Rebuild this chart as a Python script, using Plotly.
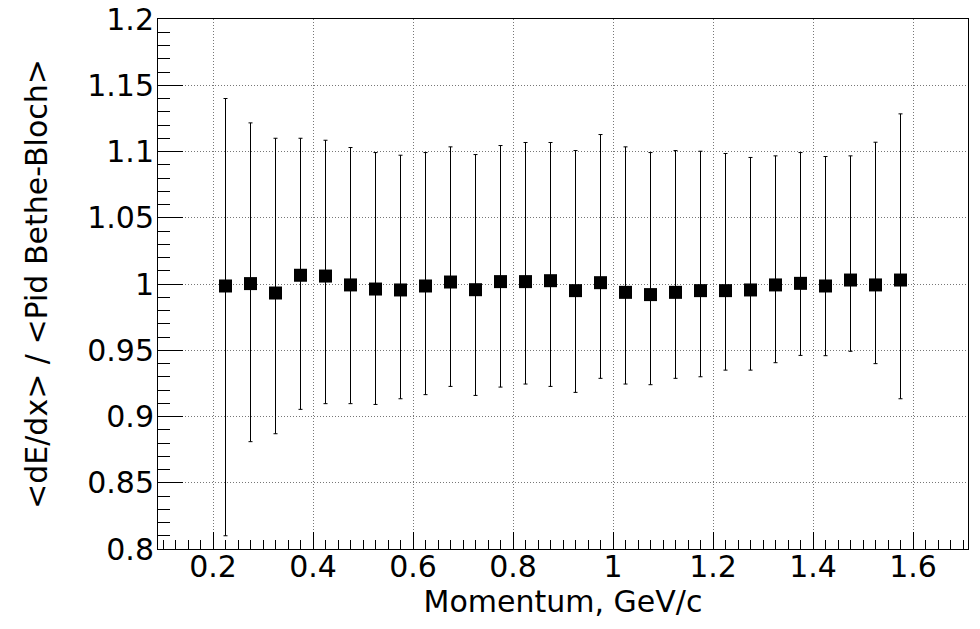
import plotly.graph_objects as go

momentum = [0.225, 0.275, 0.325, 0.375, 0.425, 0.475, 0.525, 0.575, 0.625, 0.675,
            0.725, 0.775, 0.825, 0.875, 0.925, 0.975, 1.025, 1.075, 1.125, 1.175,
            1.225, 1.275, 1.325, 1.375, 1.425, 1.475, 1.525, 1.575]
ratio = [0.9985, 1.0003, 0.9932, 1.0066, 1.0060, 0.9993, 0.9962, 0.9955, 0.9985, 1.0015,
         0.9957, 1.0018, 1.0018, 1.0025, 0.9950, 1.0010, 0.9937, 0.9920, 0.9937, 0.9950,
         0.9950, 0.9955, 0.9993, 1.0005, 0.9985, 1.0030, 0.9993, 1.0030]
ratio_high = [1.140, 1.1216, 1.110, 1.110, 1.1085, 1.103, 1.0992, 1.0972, 1.0992, 1.1035,
              1.0977, 1.1045, 1.1068, 1.1068, 1.1007, 1.1128, 1.1035, 1.0992, 1.1007, 1.1002,
              1.0985, 1.0955, 1.0967, 1.0992, 1.0962, 1.0967, 1.107, 1.1284]
ratio_low = [0.810, 0.881, 0.887, 0.9054, 0.9097, 0.9097, 0.9091, 0.9134, 0.9165, 0.9227,
             0.9159, 0.9222, 0.9245, 0.9227, 0.9182, 0.9288, 0.9245, 0.9240, 0.9288, 0.9300,
             0.9350, 0.9350, 0.9406, 0.9461, 0.9459, 0.9492, 0.9399, 0.9134]

err_plus = [h - v for h, v in zip(ratio_high, ratio)]
err_minus = [v - l for v, l in zip(ratio, ratio_low)]

FONT = "DejaVu Sans, Liberation Sans, Arial, sans-serif"

fig = go.Figure()
fig.add_trace(go.Scatter(
    x=momentum, y=ratio, mode="markers",
    marker=dict(symbol="square", size=13, color="black", line=dict(width=0)),
    error_y=dict(type="data", symmetric=False, array=err_plus, arrayminus=err_minus,
                 color="black", thickness=1, width=2),
    showlegend=False,
))

fig.update_layout(
    width=980, height=629,
    margin=dict(l=158, r=12, t=19, b=80, autoexpand=False),
    paper_bgcolor="white", plot_bgcolor="white",
    font=dict(family=FONT, color="black", size=30),
    xaxis=dict(
        range=[0.09, 1.71], tickmode="linear", tick0=0.2, dtick=0.2,
        ticks="inside", ticklen=17, tickwidth=1, tickcolor="black",
        minor=dict(ticks="inside", ticklen=9, dtick=0.025, tick0=0.0, tickcolor="black", showgrid=False),
        showline=True, linecolor="black", linewidth=1, mirror=True,
        showgrid=True, gridcolor="#777777", gridwidth=1, griddash="1px,2px",
        zeroline=False, automargin=False, ticklabeloverflow="allow",
        ticklabelstandoff=-9,
        tickfont=dict(size=30, family=FONT),
        title=dict(text="Momentum, GeV/c", font=dict(size=30, family=FONT), standoff=0),
    ),
    yaxis=dict(
        range=[0.8, 1.2], tickmode="linear", tick0=0.8, dtick=0.05,
        ticks="inside", ticklen=25, tickwidth=1, tickcolor="black",
        minor=dict(ticks="inside", ticklen=12, dtick=0.01, tick0=0.8, tickcolor="black", showgrid=False),
        showline=True, linecolor="black", linewidth=1, mirror=True,
        showgrid=True, gridcolor="#777777", gridwidth=1, griddash="1px,2px",
        zeroline=False, automargin=False, ticklabeloverflow="allow",
        ticklabelstandoff=-3,
        tickfont=dict(size=30, family=FONT),
        title=dict(text="&lt;dE/dx&gt; / &lt;Pid Bethe-Bloch&gt;", font=dict(size=30, family=FONT), standoff=30),
    ),
)

fig.write_html("out.html", config={"displayModeBar": False},
               post_script="document.body.style.margin='0';")
